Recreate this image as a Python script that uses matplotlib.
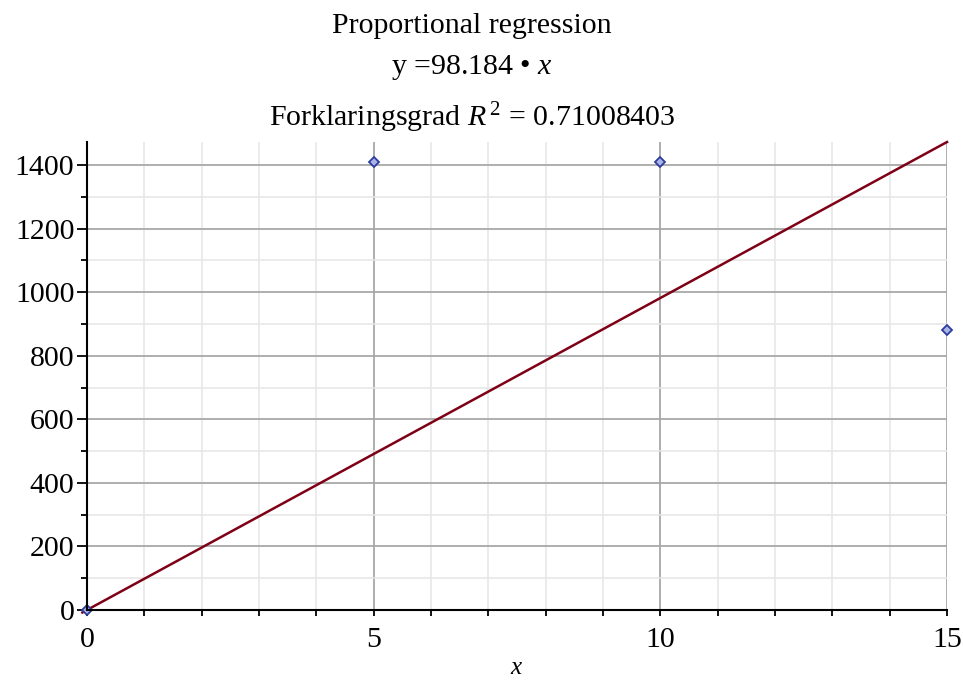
import numpy as np
import matplotlib.pyplot as plt
from matplotlib.ticker import MultipleLocator

plt.rcParams['font.family'] = ['Liberation Serif', 'DejaVu Serif']
plt.rcParams['mathtext.fontset'] = 'custom'
plt.rcParams['mathtext.rm'] = 'Liberation Serif'
plt.rcParams['mathtext.it'] = 'Liberation Serif:italic'

# measured points
x_data = [0, 5, 10, 15]
y_data = [0, 1410, 1410, 881]

slope = 98.184
r_squared = 0.71008403

fig = plt.figure(figsize=(9.63, 6.86), dpi=100)
ax = fig.add_axes([0.0903, 0.1108, 0.8931, 0.6822])

xs = np.linspace(-0.08, 15, 200)
ax.plot(xs, slope * xs, color='#7f0016', lw=1.8, zorder=3, clip_on=False)
ax.plot(x_data, y_data, linestyle='none', marker='D', markersize=5.5,
        markerfacecolor='#aab4e6', markeredgecolor='#2d3c9c', markeredgewidth=1.3,
        zorder=4, clip_on=False)

ax.set_xlim(0, 15)
ax.set_ylim(0, slope * 15)

ax.xaxis.set_major_locator(MultipleLocator(5))
ax.xaxis.set_minor_locator(MultipleLocator(1))
ax.yaxis.set_major_locator(MultipleLocator(200))
ax.yaxis.set_minor_locator(MultipleLocator(100))

ax.grid(which='major', color='#a8a8a8', lw=1.3)
ax.grid(which='minor', color='#e6e6e6', lw=1.1)
ax.set_axisbelow(True)

for side in ('top', 'right'):
    ax.spines[side].set_visible(False)
for side in ('left', 'bottom'):
    ax.spines[side].set_linewidth(1.5)
    ax.spines[side].set_zorder(5)

ax.tick_params(axis='both', which='major', labelsize=21.5, width=1.3, length=7, pad=2)
ax.tick_params(axis='both', which='minor', width=1.3, length=4)
ax.tick_params(axis='x', which='major', length=4, pad=8)

ax.set_xlabel('$x$', fontsize=18, labelpad=3)

fig.text(0.49, 0.962, 'Proportional regression', ha='center', va='center', fontsize=21.5)
fig.text(0.49, 0.902, f'y ={slope} \u2022 $x$', ha='center', va='center', fontsize=21.5)
fig.text(0.49, 0.828, f'Forklaringsgrad $R^{{\\,2}}$ = {r_squared}',
         ha='center', va='center', fontsize=21.5)

fig.savefig('out.png', dpi=100)
